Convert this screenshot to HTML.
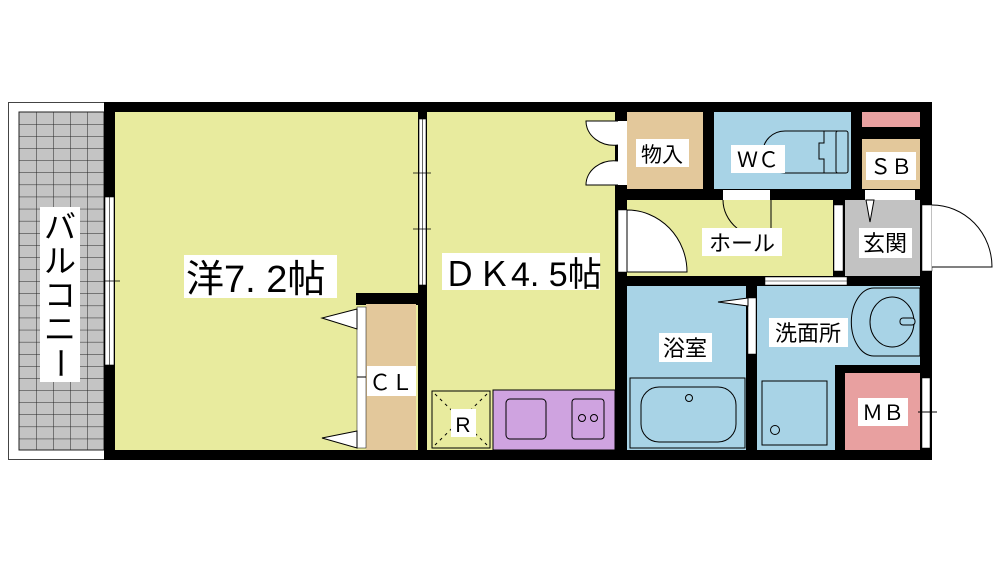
<!DOCTYPE html>
<html><head><meta charset="utf-8"><style>
html,body{margin:0;padding:0;background:#fff;width:1000px;height:562px;overflow:hidden}
svg text{font-family:"Liberation Sans","Noto Sans CJK JP",sans-serif;fill:#000}
</style></head><body>
<svg width="1000" height="562" viewBox="0 0 1000 562" xmlns="http://www.w3.org/2000/svg">
<defs>
<pattern id="g" x="19" y="112" width="17" height="12.1" patternUnits="userSpaceOnUse">
<rect width="17" height="12.1" fill="#c4c4c4"/>
<path d="M0 0H17M0 0V12.1" stroke="#222" stroke-width="1"/>
</pattern>
</defs>
<rect x="8.5" y="102.5" width="96" height="357" fill="#fff" stroke="#444" stroke-width="1"/>
<rect x="19" y="112" width="85" height="338" fill="url(#g)" stroke="#222"/>
<rect x="104" y="102" width="828" height="358" fill="#000"/>
<rect x="115" y="112" width="303" height="338" fill="#e8eb9e"/>
<rect x="427" y="112" width="188" height="338" fill="#e8eb9e"/>
<rect x="356" y="293" width="62" height="12" fill="#000"/>
<rect x="366" y="304" width="50" height="146" fill="#e3c89b"/>
<rect x="357" y="307" width="9" height="141" fill="#fff" stroke="#000" stroke-width="0.5"/>
<line x1="357" y1="377" x2="366" y2="377" stroke="#000"/>
<polygon points="357,309 322,318 357,329" fill="#fff" stroke="#000"/>
<polygon points="357,431 322,438 357,448" fill="#fff" stroke="#000"/>
<rect x="105" y="197" width="9" height="168" fill="#fff" stroke="#000" stroke-width="0.6"/>
<line x1="109.5" y1="197" x2="109.5" y2="365" stroke="#000" stroke-width="0.6"/>
<line x1="104" y1="281" x2="120" y2="281" stroke="#000" stroke-width="0.8"/>
<rect x="419" y="119" width="7" height="166" fill="#fff" stroke="#000" stroke-width="0.6"/>
<line x1="422.5" y1="119" x2="422.5" y2="285" stroke="#000" stroke-width="0.6"/>
<line x1="413" y1="173" x2="431" y2="173" stroke="#000" stroke-width="0.8"/>
<line x1="413" y1="229" x2="431" y2="229" stroke="#000" stroke-width="0.8"/>
<rect x="432" y="391" width="58" height="57" fill="#e8eb9e" stroke="#000"/>
<path d="M435 394L487 445M487 394L435 445" stroke="#000" stroke-dasharray="3,4"/>
<rect x="493" y="390" width="122" height="60" fill="#cfa3e0" stroke="#000"/>
<rect x="506" y="399" width="40" height="40" rx="4" fill="#cfa3e0" stroke="#000"/>
<rect x="572" y="399" width="32" height="40" rx="3" fill="#cfa3e0" stroke="#000"/>
<circle cx="582" cy="418" r="3.5" fill="none" stroke="#000"/><circle cx="594" cy="418" r="3.5" fill="none" stroke="#000"/>
<rect x="627" y="112" width="76" height="77" fill="#e3c89b"/>
<rect x="714" y="112" width="137" height="77" fill="#a8d3e6"/>
<rect x="862" y="112" width="58" height="15" fill="#e8a0a0"/>
<rect x="862" y="139" width="58" height="50" fill="#e3c89b"/>
<rect x="627" y="200" width="206" height="76" fill="#e8eb9e"/>
<rect x="845" y="200" width="75" height="76" fill="#c2c2c2"/>
<rect x="627" y="286" width="119" height="164" fill="#a8d3e6"/>
<rect x="757" y="286" width="163" height="164" fill="#a8d3e6"/>
<rect x="835" y="365" width="85" height="85" fill="#000"/>
<rect x="845" y="373" width="75" height="77" fill="#e8a0a0"/>
<rect x="618" y="121" width="9" height="64" fill="#fff"/>
<path d="M618 121h-32v0a28 24 0 0 0 32 24M618 185h-32a28 24 0 0 1 32 -24" fill="#fff" stroke="#000"/>
<rect x="618" y="210" width="9" height="62" fill="#fff" stroke="#000" stroke-width="0.5"/>
<path d="M627 210A60 62 0 0 1 687 272H627Z" fill="#fff" stroke="#000"/>
<rect x="723" y="190" width="47" height="10" fill="#fff"/>
<path d="M723 200A48 40 0 0 0 771 240V200" fill="none" stroke="#000"/>
<rect x="834" y="205" width="9" height="66" fill="#fff" stroke="#000" stroke-width="0.5"/>
<rect x="865" y="190" width="50" height="10" fill="#fff"/>
<polygon points="866,200 874,200 870,222" fill="#fff" stroke="#000"/>
<rect x="922" y="205" width="10" height="66" fill="#fff" stroke="#000" stroke-width="0.5"/>
<path d="M932 205A60 62 0 0 1 992 267H932" fill="#fff" stroke="#000"/>
<rect x="765" y="277" width="82" height="8" fill="#fff" stroke="#000" stroke-width="0.5"/>
<line x1="765" y1="281" x2="847" y2="281" stroke="#000" stroke-width="0.5"/>
<rect x="748" y="298" width="8" height="56" fill="#fff" stroke="#000" stroke-width="0.5"/>
<polygon points="748,298 718,302 748,306" fill="#fff" stroke="#000"/>
<rect x="922" y="378" width="8" height="70" fill="#fff" stroke="#000" stroke-width="0.5"/>
<line x1="918" y1="412" x2="937" y2="412" stroke="#000"/>
<path d="M785 131h55v42h-55a22 21 0 0 1 0-42z" fill="#a8d3e6" stroke="#000"/>
<rect x="836" y="131" width="12" height="42" rx="2" fill="#a8d3e6" stroke="#000"/>
<path d="M824 131v12h-5v16h5v14" fill="none" stroke="#000"/>
<rect x="630" y="378" width="115" height="70" fill="#a8d3e6" stroke="#000"/>
<rect x="641" y="387" width="95" height="55" rx="18" fill="none" stroke="#000"/>
<circle cx="689" cy="398" r="3.5" fill="none" stroke="#000"/>
<rect x="762" y="381" width="65" height="64" fill="none" stroke="#000"/>
<circle cx="775" cy="430" r="4.5" fill="none" stroke="#000"/>
<path d="M874 288a20 30 0 0 0 0 68h46v-68z" fill="#a8d3e6" stroke="#000"/>
<ellipse cx="892" cy="322" rx="22" ry="25" fill="none" stroke="#000"/>
<rect x="900" y="318" width="15" height="7" rx="3" fill="#a8d3e6" stroke="#000"/>
<rect x="40" y="207" width="40" height="175" fill="#fff"/>
<text x="60" y="238" font-size="32" text-anchor="middle">バ</text>
<text x="60" y="272" font-size="32" text-anchor="middle">ル</text>
<text x="60" y="306" font-size="32" text-anchor="middle">コ</text>
<text x="60" y="340" font-size="32" text-anchor="middle">ニ</text>
<text x="0" y="0" font-size="32" text-anchor="middle" transform="translate(49 363) rotate(90)">ー</text>
<rect x="184" y="255" width="153" height="43" fill="#fff"/>
<text x="186" y="292" font-size="38">洋7. 2帖</text>
<rect x="442" y="253" width="158" height="37" fill="#fff"/>
<text x="443" y="286" font-size="34">ＤＫ4. 5帖</text>
<rect x="367" y="366" width="49" height="30" fill="#fff"/>
<text x="391" y="390" font-size="22" text-anchor="middle">ＣＬ</text>
<rect x="451" y="409" width="25" height="28" fill="#fff"/>
<text x="463" y="432" font-size="21" text-anchor="middle">R</text>
<rect x="636" y="139" width="53" height="28" fill="#fff"/>
<text x="662" y="162" font-size="21" text-anchor="middle">物入</text>
<rect x="731" y="145" width="54" height="28" fill="#fff"/>
<text x="758" y="167" font-size="21" text-anchor="middle">ＷＣ</text>
<rect x="866" y="152" width="50" height="28" fill="#fff"/>
<text x="891" y="174" font-size="21" text-anchor="middle">ＳＢ</text>
<rect x="702" y="228" width="80" height="28" fill="#fff"/>
<text x="742" y="251" font-size="22" text-anchor="middle">ホール</text>
<rect x="859" y="228" width="53" height="30" fill="#fff"/>
<text x="885" y="251" font-size="22" text-anchor="middle">玄関</text>
<rect x="659" y="333" width="53" height="29" fill="#fff"/>
<text x="685" y="356" font-size="22" text-anchor="middle">浴室</text>
<rect x="769" y="318" width="79" height="29" fill="#fff"/>
<text x="808" y="341" font-size="22" text-anchor="middle">洗面所</text>
<rect x="858" y="398" width="50" height="28" fill="#fff"/>
<text x="883" y="420" font-size="21" text-anchor="middle">ＭＢ</text>
</svg>
</body></html>
